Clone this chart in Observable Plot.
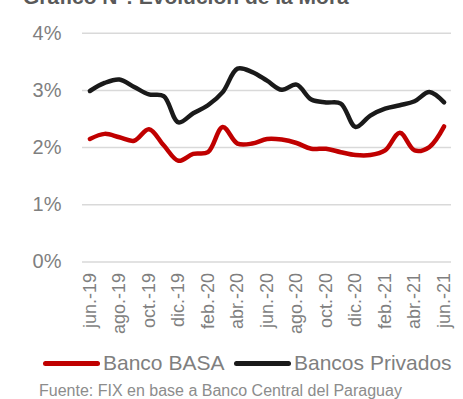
<!DOCTYPE html>
<html>
<head>
<meta charset="utf-8">
<script src="https://cdn.jsdelivr.net/npm/d3@7"></script>
<script src="https://cdn.jsdelivr.net/npm/@observablehq/plot@0.6"></script>
<style>
  html, body { margin: 0; padding: 0; background: #fff; }
  body { width: 463px; height: 399px; overflow: hidden; position: relative; font-family: "Liberation Sans", Arial, sans-serif; }
  #title { position: absolute; left: 23px; top: -13px; font-size: 21px; line-height: 20px; font-weight: bold; color: #595959; white-space: nowrap; }
  #chart { position: absolute; left: 0; top: 0; }
  #legend { position: absolute; left: 0; top: 351px; width: 463px; height: 24px; }
  .lg { position: absolute; top: 0; height: 24px; display: flex; align-items: center; font-size: 21px; color: #7f7f7f; white-space: nowrap; }
  .sw { width: 57px; height: 5px; border-radius: 3px; margin-right: 3px; }
  #source { position: absolute; left: 39px; top: 382px; font-size: 16px; line-height: 18px; color: #8c8c8c; white-space: nowrap; }
</style>
</head>
<body>
<div id="title">Gráfico N°: Evolución de la Mora</div>
<div id="chart"></div>
<div id="legend"></div>
<div id="source">Fuente: FIX en base a Banco Central del Paraguay</div>
<script>
const months = ["jun.-19","jul.-19","ago.-19","sep.-19","oct.-19","nov.-19","dic.-19","ene.-20","feb.-20","mar.-20","abr.-20","may.-20","jun.-20","jul.-20","ago.-20","sep.-20","oct.-20","nov.-20","dic.-20","ene.-21","feb.-21","mar.-21","abr.-21","may.-21","jun.-21"];
const tickLabels = ["jun.-19","ago.-19","oct.-19","dic.-19","feb.-20","abr.-20","jun.-20","ago.-20","oct.-20","dic.-20","feb.-21","abr.-21","jun.-21"];
const basa = [2.15,2.24,2.18,2.12,2.32,2.04,1.77,1.89,1.92,2.36,2.07,2.07,2.15,2.14,2.08,1.98,1.98,1.92,1.87,1.87,1.95,2.26,1.95,2.01,2.37];
const privados = [2.99,3.13,3.19,3.06,2.93,2.90,2.44,2.60,2.74,2.97,3.38,3.32,3.17,3.01,3.10,2.84,2.79,2.77,2.36,2.56,2.68,2.74,2.81,2.97,2.79];
const yTicks = [0, 1, 2, 3, 4];
const seriesNames = ["Banco BASA", "Bancos Privados"];
const seriesColors = ["#c00000", "#1a1a1a"];

const data = [];
months.forEach((m, i) => {
  data.push({idx: i, month: m, value: basa[i], serie: seriesNames[0]});
  data.push({idx: i, month: m, value: privados[i], serie: seriesNames[1]});
});
const tickIdx = tickLabels.map(l => months.indexOf(l));

const W = 463, H = 340;
const chart = Plot.plot({
  width: W,
  height: H,
  marginLeft: 82,
  marginRight: 12,
  marginTop: 32.7,
  marginBottom: H - 261.5,
  style: {fontFamily: "'Liberation Sans', Arial, sans-serif", color: "#7f7f7f", background: "transparent"},
  x: {type: "linear", domain: [-0.5, months.length - 0.5]},
  y: {domain: [0, 4]},
  color: {domain: seriesNames, range: seriesColors},
  marks: [
    Plot.gridY(yTicks, {stroke: "#d9d9d9", strokeOpacity: 1, strokeWidth: 1.5}),
    Plot.axisY({ticks: yTicks, tickFormat: d => d + "%", tickSize: 0, tickPadding: 21, fontSize: 20, fill: "#7f7f7f", label: null}),
    Plot.axisX({ticks: tickIdx, tickFormat: i => months[i], tickRotate: -90, tickSize: 0, tickPadding: 11, fontSize: 18, fill: "#7f7f7f", label: null}),
    Plot.line(data, {x: "idx", y: "value", z: "serie", stroke: "serie", strokeWidth: 4.5, curve: "catmull-rom", strokeLinecap: "round", strokeLinejoin: "round"})
  ]
});
document.getElementById("chart").appendChild(chart);

const legend = document.getElementById("legend");
const legendX = [43, 234];
seriesNames.forEach((name, i) => {
  const item = document.createElement("div");
  item.className = "lg";
  item.style.left = legendX[i] + "px";
  const sw = document.createElement("div");
  sw.className = "sw";
  sw.style.background = seriesColors[i];
  const t = document.createElement("span");
  t.textContent = name;
  item.appendChild(sw);
  item.appendChild(t);
  legend.appendChild(item);
});
</script>
</body>
</html>
